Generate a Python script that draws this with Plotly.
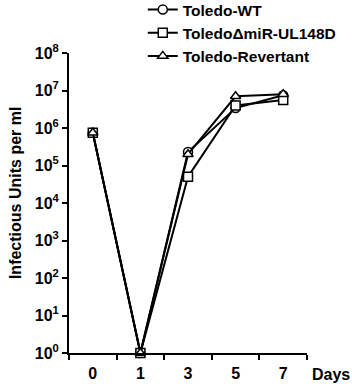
import plotly.graph_objects as go

days = ["0", "1", "3", "5", "7"]
wt = [7.5e5, 1, 2.3e5, 3.4e6, 7.5e6]
dmir = [7.5e5, 1, 5.0e4, 4.0e6, 5.6e6]
rev = [7.5e5, 1, 2.0e5, 7.0e6, 8.0e6]
series_names = ["Toledo-WT", "ToledoΔmiR-UL148D", "Toledo-Revertant"]
y_tickvals = [10**k for k in range(9)]
y_ticktext = ["10<sup>%d</sup>" % k for k in range(9)]

FONT = dict(family="Arial", size=16, color="black", weight="bold")

fig = go.Figure()
symbols = ["circle", "square", "triangle-up"]
for name, vals, sym in zip(series_names, [wt, dmir, rev], symbols):
    fig.add_trace(go.Scatter(
        x=days, y=vals, name=name, mode="lines+markers",
        line=dict(color="black", width=2),
        marker=dict(symbol=sym, size=9, color="white",
                    line=dict(color="black", width=1.5)),
        cliponaxis=False,
    ))

fig.update_layout(
    width=352, height=386,
    margin=dict(l=69, r=45, t=53, b=33, autoexpand=False),
    paper_bgcolor="white", plot_bgcolor="white",
    font=FONT,
    showlegend=True,
    legend=dict(x=0.31, y=1.20, xanchor="left", yanchor="top",
                font=dict(family="Arial", size=15.5, color="black", weight="bold"),
                bgcolor="rgba(0,0,0,0)", tracegroupgap=0, itemwidth=30),
    xaxis=dict(type="category", tickson="boundaries", showgrid=False,
               showline=True, linecolor="black", linewidth=2,
               ticks="outside", ticklen=5, tickwidth=2, tickcolor="black",
               tickfont=FONT, zeroline=False, range=[-0.5, 4.5],
               ticklabelstandoff=5, automargin=False),
    yaxis=dict(type="log", range=[0, 8], showgrid=False,
               showline=True, linecolor="black", linewidth=2,
               ticks="outside", ticklen=5, tickwidth=2, tickcolor="black",
               tickvals=y_tickvals, ticktext=y_ticktext, tickfont=FONT,
               zeroline=False, automargin=False),
    annotations=[
        dict(text="Infectious Units per ml", textangle=-90, xref="paper", yref="paper",
             x=-0.227, y=0.533, xanchor="center", yanchor="middle",
             showarrow=False, font=FONT),
        dict(text="Days", xref="paper", yref="paper", x=1.10, y=-0.07,
             xanchor="center", yanchor="middle", showarrow=False, font=FONT),
    ],
)

fig.write_html("out.html")
